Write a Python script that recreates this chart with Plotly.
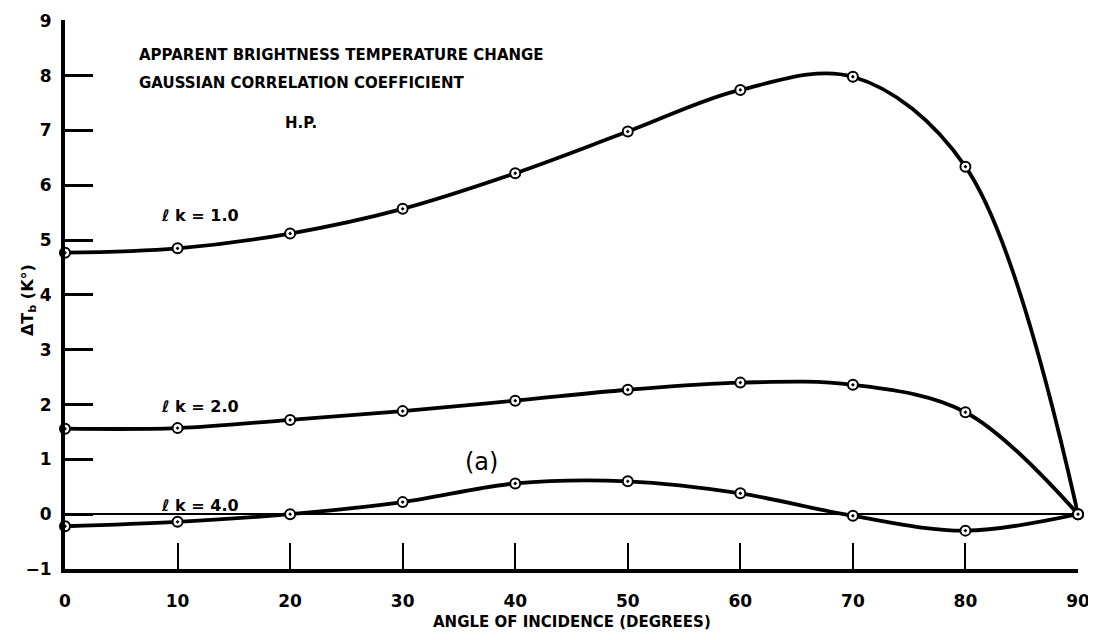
import plotly.graph_objects as go

angles = [0, 10, 20, 30, 40, 50, 60, 70, 80, 90]
lk_1 = [4.77, 4.85, 5.12, 5.57, 6.22, 6.98, 7.74, 7.98, 6.34, 0.0]
lk_2 = [1.56, 1.57, 1.72, 1.88, 2.07, 2.27, 2.40, 2.36, 1.86, 0.0]
lk_4 = [-0.22, -0.14, 0.0, 0.22, 0.56, 0.60, 0.38, -0.03, -0.30, 0.0]

x_ticks = [0, 10, 20, 30, 40, 50, 60, 70, 80, 90]
y_ticks = [-1, 0, 1, 2, 3, 4, 5, 6, 7, 8, 9]
y_tick_text = ["−1", "0", "1", "2", "3", "4", "5", "6", "7", "8", "9"]

series = [("ℓ k = 1.0", lk_1), ("ℓ k = 2.0", lk_2), ("ℓ k = 4.0", lk_4)]
label_pos = [(12, 5.45), (12, 1.97), (12, 0.15)]

PLOT_BOTTOM = 569.0
PLOT_H = 549.0


def py(page_y):
    return (PLOT_BOTTOM - page_y) / PLOT_H


fig = go.Figure()
for (name, vals) in series:
    fig.add_trace(go.Scatter(
        x=angles, y=vals, mode="lines+markers", name=name,
        line=dict(color="black", width=3.8, shape="spline", smoothing=1.0),
        marker=dict(symbol="circle-dot", size=10, color="white",
                    line=dict(color="black", width=2)),
        cliponaxis=False, showlegend=False,
    ))

font_b = dict(family="DejaVu Sans", size=15, color="black", weight="bold")

for (name, _), (lx, ly) in zip(series, label_pos):
    fig.add_annotation(x=lx, y=ly, text=name, showarrow=False,
                       font=dict(family="DejaVu Sans", size=16, color="black", weight="bold"))

fig.add_annotation(x=37, y=0.95, text="(a)", showarrow=False,
                   font=dict(family="DejaVu Sans", size=24, color="black"))

title_lines = ["APPARENT BRIGHTNESS TEMPERATURE CHANGE",
               "GAUSSIAN CORRELATION COEFFICIENT"]
for i, t in enumerate(title_lines):
    fig.add_annotation(xref="paper", yref="paper", x=0.071, y=py(55 + 28 * i),
                       xanchor="left", yanchor="middle", text=t, showarrow=False,
                       font=font_b)
fig.add_annotation(xref="paper", yref="paper", x=0.233, y=py(123),
                   xanchor="center", yanchor="middle", text="H.P.", showarrow=False,
                   font=font_b)

# axis titles
fig.add_annotation(xref="paper", yref="paper", x=-0.0365, y=py(300), textangle=-90,
                   xanchor="center", yanchor="middle", text="ΔT<sub>b</sub> (K°)",
                   showarrow=False,
                   font=dict(family="DejaVu Sans", size=16, color="black", weight="bold"))
fig.add_annotation(xref="paper", yref="paper", x=0.5, y=py(622),
                   xanchor="center", yanchor="middle", text="ANGLE OF INCIDENCE (DEGREES)",
                   showarrow=False,
                   font=dict(family="DejaVu Sans", size=15, color="black", weight="bold"))

fig.update_layout(
    width=1088, height=624,
    margin=dict(l=57, r=18, t=12, b=63),
    paper_bgcolor="white", plot_bgcolor="white",
    font=dict(family="DejaVu Sans", color="black"),
    xaxis=dict(
        range=[0, 90], tickvals=x_ticks, ticks="inside", ticklen=26, tickwidth=2,
        tickcolor="black", showline=True, linecolor="black", linewidth=4,
        showgrid=False, zeroline=False, ticklabelstandoff=14, automargin=False,
        ticklabeloverflow="allow",
        tickfont=dict(family="DejaVu Sans", size=17, color="black", weight="bold"),
    ),
    yaxis=dict(
        range=[-1, 9.015], tickvals=y_ticks, ticktext=y_tick_text, ticks="inside",
        ticklen=28, tickwidth=2.5, tickcolor="black", showline=True,
        linecolor="black", linewidth=4, showgrid=False,
        zeroline=True, zerolinecolor="black", zerolinewidth=1.5,
        ticklabelstandoff=6, automargin=False, ticklabeloverflow="allow",
        tickfont=dict(family="DejaVu Sans", size=17, color="black", weight="bold"),
    ),
)

fig.write_html("out.html")
